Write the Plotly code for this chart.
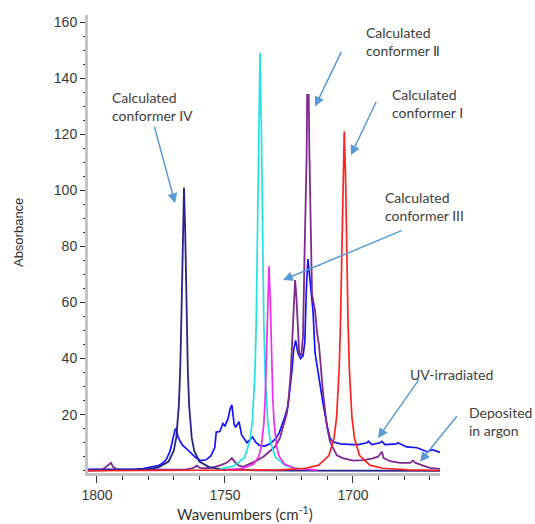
import plotly.graph_objects as go

# ---------------- data ----------------
uv_x = [1803.5, 1790, 1785, 1782, 1779, 1776, 1774, 1773, 1771.5, 1770.3, 1769.5, 1769, 1768.3, 1767.5,
        1766.5, 1765.2, 1763.3, 1761.3, 1759.4, 1757.4, 1755.5, 1754, 1753.4, 1752, 1750.8, 1750, 1748.8,
        1748, 1747.3, 1746.4, 1745.8, 1744.5, 1743.5, 1742.4, 1741.4, 1739.2, 1738, 1736.5, 1734.4, 1732.1,
        1730.2, 1728.8, 1727.6, 1726.7, 1725.4, 1724.6, 1723.8, 1723.2, 1722.4, 1721.5, 1720.5, 1719.5,
        1718.8, 1718.2, 1717.6, 1717, 1716.4, 1715.6, 1714.8, 1713.8, 1712.9, 1711.7, 1710, 1709, 1707.8,
        1705, 1700, 1698, 1694.5, 1694, 1692.6, 1689.4, 1688.7, 1687.5, 1683, 1682.5, 1679, 1675, 1671,
        1669, 1666]
uv_y = [0.5, 0.5, 0.6, 0.8, 1.2, 1.8, 3.0, 3.9, 6.8, 11.7, 14.6, 15.0, 12.0, 10.5,
        9.0, 8.0, 6.4, 4.6, 3.6, 3.9, 5.3, 8.2, 13.8, 14.0, 16.8, 16.0, 18.5,
        22.0, 23.5, 16.5, 15.5, 17.5, 12.8, 11.2, 10.0, 12.0, 10.2, 9.0, 8.8, 9.8,
        11.5, 13.5, 16.5, 19.0, 23.0, 29.0, 36.0, 43.0, 46.5, 42.0, 40.0, 41.0,
        46.0, 65.0, 75.5, 70.0, 63.0, 57.0, 42.0, 36.0, 32.0, 24.0, 15.6, 11.7, 10.3,
        9.6, 9.3, 9.3, 10.0, 10.5, 9.3, 10.0, 10.5, 9.3, 9.6, 10.0, 8.5, 8.2, 6.8,
        7.5, 6.5]

dep_x = [1803.5, 1800, 1798, 1797, 1795.7, 1794.5, 1793.7, 1792.6, 1790, 1775, 1765, 1762.5, 1761.5,
         1761, 1759.8, 1757, 1754, 1751.6, 1749, 1747.3, 1746, 1744.5, 1743, 1741, 1739, 1737, 1735,
         1733.2, 1730.5, 1728.5, 1727.3, 1725.8, 1725, 1724.3, 1723.8, 1723.3, 1722.9, 1722.6, 1722.1,
         1721.6, 1721, 1720.2, 1719.5, 1718.9, 1718.4, 1718.1, 1717.9, 1717.3, 1717, 1716.4, 1716,
         1714.8, 1714, 1713.3, 1712.5, 1711.7, 1710.2, 1709, 1708, 1706.3, 1704, 1700, 1696, 1692.6,
         1690.2, 1689.5, 1688.7, 1688, 1685.5, 1681.6, 1677.7, 1676.6, 1675.5, 1672.6, 1670, 1666]
dep_y = [0.3, 0.3, 0.5, 1.0, 1.8, 2.8, 1.4, 0.7, 0.3, 0.3, 0.5, 0.9, 1.4,
         1.8, 1.0, 0.9, 1.4, 2.0, 3.0, 4.5, 3.0, 1.8, 1.4, 2.1, 3.0, 3.9, 5.0,
         6.4, 8.5, 11.7, 15.6, 20.6, 27.0, 35.0, 45.0, 57.0, 67.0, 68.0, 62.0,
         51.0, 42.0, 41.0, 48.0, 78.0, 100.0, 112.0, 134.0, 134.0, 112.0, 80.0, 63.0,
         57.0, 49.0, 45.0, 37.0, 28.0, 16.0, 10.5, 8.5, 5.5, 4.5, 3.6, 3.8, 4.3,
         5.0, 5.7, 6.8, 4.5, 3.4, 2.8, 2.8, 3.6, 2.8, 1.8, 1.0, 0.7]

c4_x = [1803.5, 1791, 1781, 1776, 1772, 1770, 1769, 1768, 1767.5, 1767, 1766.5, 1766, 1765.5, 1765,
        1764.5, 1764, 1763, 1762, 1760, 1756, 1751, 1741, 1720, 1666]
c4_y = [0.1, 0.2, 0.5, 1.2, 3.3, 7.1, 11.9, 23.4, 35.4, 55.4, 83.7, 101.0, 83.7, 55.4,
        35.4, 23.4, 11.9, 7.1, 3.3, 1.2, 0.5, 0.2, 0.05, 0.0]

cy_x = [1752, 1746.3, 1742.3, 1740.3, 1739.3, 1738.3, 1737.8, 1737.3, 1736.8, 1736.3, 1735.8, 1735.3,
        1734.8, 1734.3, 1733.3, 1732.3, 1730.3, 1726.3, 1721.3, 1718]
cy_y = [0.6, 1.8, 4.8, 10.5, 17.6, 34.6, 52.2, 81.7, 123.5, 149.0, 123.5, 81.7,
        52.2, 34.6, 17.6, 10.5, 4.8, 1.8, 0.8, 0.5]

mg_x = [1750, 1747.8, 1742.8, 1738.8, 1736.8, 1735.8, 1734.8, 1734.3, 1733.8, 1733.3, 1732.8, 1732.3,
        1731.8, 1731.3, 1730.8, 1729.8, 1728.8, 1726.8, 1722.8, 1717.8, 1714]
mg_y = [0.2, 0.4, 0.9, 2.4, 5.1, 8.6, 16.9, 25.6, 40.0, 60.5, 73.0, 60.5,
        40.0, 25.6, 16.9, 8.6, 5.1, 2.4, 0.9, 0.4, 0.2]

c1_x = [1803.5, 1740, 1728.4, 1718.4, 1713.4, 1709.4, 1707.4, 1706.4, 1705.4, 1704.9, 1704.4, 1703.9,
        1703.4, 1702.9, 1702.4, 1701.9, 1701.4, 1700.4, 1699.4, 1697.4, 1693.4, 1688.4, 1678.4, 1666]
c1_y = [0.0, 0.1, 0.3, 0.9, 2.0, 5.4, 11.6, 19.0, 36.0, 52.0, 76.0, 105.0,
        121.0, 105.0, 76.0, 52.0, 36.0, 19.0, 11.6, 5.4, 2.0, 0.9, 0.3, 0.1]

y_ticks = [20, 40, 60, 80, 100, 120, 140, 160]
x_ticks = [1800, 1750, 1700]

# ---------------- figure ----------------
fig = go.Figure()
series = [
    (uv_x, uv_y, "UV-irradiated", "#1414FF", 1.7),
    (dep_x, dep_y, "Deposited in argon", "#7E2A8E", 1.8),
    (c4_x, c4_y, "Calculated conformer IV", "#25258A", 1.8),
    (cy_x, cy_y, "Calculated (cyan)", "#1FE3E6", 1.7),
    (mg_x, mg_y, "Calculated conformer III", "#F02CF0", 1.7),
    (c1_x, c1_y, "Calculated conformer I", "#FF2222", 1.7),
]
for xs, ys, nm, col, w in series:
    fig.add_trace(go.Scatter(x=xs, y=ys, mode="lines", name=nm,
                             line=dict(color=col, width=w), showlegend=False))

txt_font = dict(family="Lato, Open Sans, sans-serif", size=14, color="#404040")
labels = [  # paper coordinates
    ("Calculated<br>conformer IV", 0.0625, 0.801),
    ("Calculated<br>conformer Ⅱ", 0.784, 0.943),
    ("Calculated<br>conformer I", 0.858, 0.806),
    ("Calculated<br>conformer III", 0.838, 0.581),
    ("UV-irradiated", 0.909, 0.216),
    ("Deposited<br>in argon", 1.077, 0.1135),
]
for t, x, y in labels:
    fig.add_annotation(x=x, y=y, xref="paper", yref="paper", text=t, showarrow=False,
                       xanchor="left", yanchor="middle", align="left", font=txt_font)

arrows = [  # head (data coords), tail offset (pixels)
    (1769.5, 95.4, -21, -78),
    (1714.8, 129.9, 27, -56),
    (1700.8, 112.5, 26, -55),
    (1727.3, 68.0, 120, -50),
    (1690.2, 11.7, 42, -60),
    (1673.8, 3.2, 38, -47),
]
for x, y, ax, ay in arrows:
    fig.add_annotation(x=x, y=y, xref="x", yref="y", ax=ax, ay=ay, axref="pixel", ayref="pixel",
                       text="", showarrow=True, arrowhead=2, arrowsize=1.3, arrowwidth=1.5,
                       arrowcolor="#5B9BD5", standoff=0)

fig.add_annotation(x=-0.199, y=0.526, xref="paper", yref="paper", text="Absorbance",
                   textangle=-90, showarrow=False, xanchor="center", yanchor="middle",
                   font=dict(family="Liberation Sans, Arial", size=13, color="#333333"))
fig.add_annotation(x=0.446, y=-0.089, xref="paper", yref="paper", text="Wavenumbers (cm<sup>-1</sup>)",
                   showarrow=False, xanchor="center", yanchor="middle",
                   font=dict(family="Lato, Open Sans, sans-serif", size=15, color="#333333"))

tick_font = dict(family="Liberation Sans, Arial", size=14, color="#3A3A3A")
fig.update_xaxes(range=[1803.5, 1666], tickvals=x_ticks, ticks="outside", ticklen=7, tickwidth=1.2,
                 tickcolor="#333333", showline=True, linecolor="#C4C4C4", linewidth=3,
                 showgrid=False, zeroline=False, tickfont=tick_font,
                 minor=dict(dtick=10, tick0=1800, ticks="outside", ticklen=4, tickcolor="#333333",
                            showgrid=False))
fig.update_yaxes(range=[-0.8, 162.5], tickvals=y_ticks, ticks="outside", ticklen=5, tickwidth=1.2,
                 tickcolor="#333333", showline=True, linecolor="#C4C4C4", linewidth=3,
                 showgrid=False, zeroline=False, tickfont=tick_font,
                 minor=dict(dtick=5, tick0=0, ticks="outside", ticklen=2, tickcolor="#333333",
                            showgrid=False))
fig.update_layout(width=535, height=524, margin=dict(l=88, r=95, t=15, b=51),
                  paper_bgcolor="white", plot_bgcolor="white", showlegend=False)

fig.write_html("out.html")
